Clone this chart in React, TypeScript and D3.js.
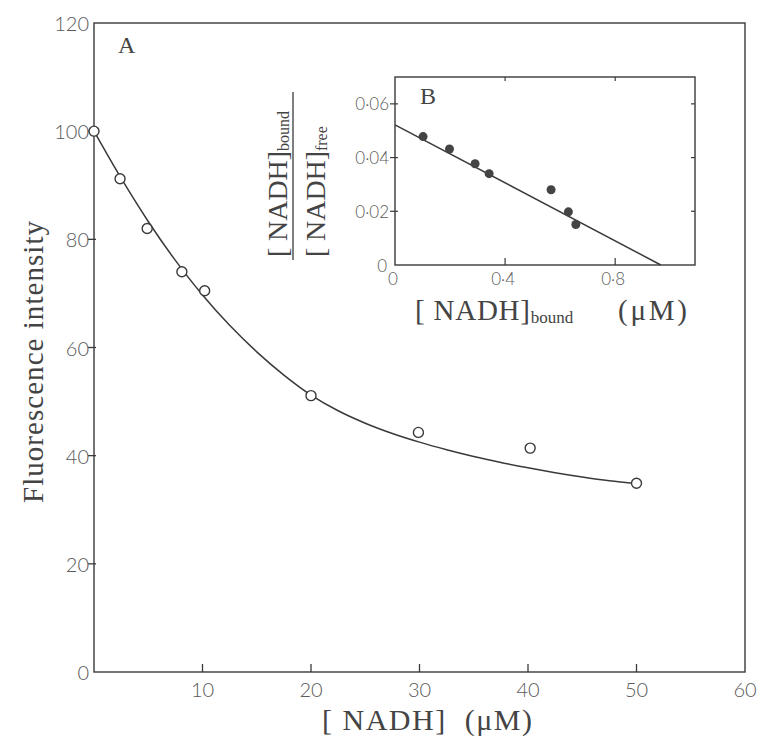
import React from "react";
import * as d3 from "d3";

// Panel A: fluorescence vs [NADH]
const mainX = [0, 2.4, 4.9, 8.1, 10.2, 20, 29.9, 40.2, 50];
const mainY = [100, 91.2, 82, 74, 70.5, 51.1, 44.3, 41.4, 34.9];
// fitted curve
const fitX = [0, 2.5, 5, 7.5, 10, 12.5, 15, 17.5, 20, 22.5, 25, 27.5, 30, 32.5, 35, 37.5, 40, 42.5, 45, 47.5, 50];
const fitY = [100, 91.3, 83.3, 76.1, 69.7, 64.1, 59.2, 54.9, 51.2, 48.3, 46.0, 44.1, 42.5, 41.1, 39.85, 38.75, 37.75, 36.85, 36.05, 35.35, 34.8];
const mainXTicks = [10, 20, 30, 40, 50, 60];
const mainYTicks = [0, 20, 40, 60, 80, 100, 120];

// Panel B: Scatchard plot
const insetX = [0.102, 0.198, 0.291, 0.342, 0.567, 0.63, 0.657];
const insetY = [0.0478, 0.0432, 0.0377, 0.034, 0.028, 0.0198, 0.0151];
const insetFitX = [0, 0.966];
const insetFitY = [0.0522, 0];
const insetXTicks = [0, 0.4, 0.8];
const insetYTicks = [0, 0.02, 0.04, 0.06];

const INK = "#3a3a3a";
const TXT = "#444";
const TICK = "#5a5a5a";
const SERIF = "'Liberation Serif', 'Times New Roman', serif";
const SANS = "Lato, 'DejaVu Sans', sans-serif";

const fmtDot = (v: number) => (v === 0 ? "0" : d3.format(".2~f")(v).replace(".", "·"));

export default function App() {
  const x = d3.scaleLinear().domain([0, 60]).range([94, 745]);
  const y = d3.scaleLinear().domain([0, 120]).range([672, 23]);

  const bx = d3.scaleLinear().domain([0, 1.09]).range([395, 695]);
  const by = d3.scaleLinear().domain([0, 0.07]).range([265, 77]);

  const fitLine = d3
    .line<number>()
    .x((d, i) => x(fitX[i]))
    .y((d, i) => y(fitY[i]))
    .curve(d3.curveCatmullRom.alpha(0.5))(fitX) as string;

  const insetLine = d3
    .line<number>()
    .x((d, i) => bx(insetFitX[i]))
    .y((d, i) => by(insetFitY[i]))(insetFitX) as string;

  const [x0, x1] = x.range();
  const [y0, y1] = y.range();
  const [bx0, bx1] = bx.range();
  const [by0, by1] = by.range();

  return (
    <svg
      width={760}
      height={743}
      style={{ position: "absolute", left: 0, top: 0, background: "#fff" }}
    >
      <rect x={0} y={0} width={760} height={743} fill="#fff" />
      {/* main frame */}
      <rect x={x0} y={y1} width={x1 - x0} height={y0 - y1} fill="none" stroke={INK} strokeWidth={1.4} />
      {/* y ticks */}
      {mainYTicks.map((t) => (
        <g key={"my" + t}>
          {t > 0 && t < 120 && (
            <line x1={x0 - 6} x2={x0 + 2} y1={y(t)} y2={y(t)} stroke={INK} strokeWidth={1.3} />
          )}
          <text
            x={x0 - 5}
            y={y(t)}
            textAnchor="end"
            dominantBaseline="central"
            fontFamily={SANS}
            fontWeight={300}
            fontSize={20}
            fill={TICK}
          >
            {t}
          </text>
        </g>
      ))}
      {/* x ticks */}
      {mainXTicks.map((t) => (
        <g key={"mx" + t}>
          {t < 60 && <line x1={x(t)} x2={x(t)} y1={y0} y2={y0 - 8} stroke={INK} strokeWidth={1.3} />}
          <text
            x={x(t)}
            y={689}
            textAnchor="middle"
            dominantBaseline="central"
            fontFamily={SANS}
            fontWeight={300}
            fontSize={20}
            fill={TICK}
          >
            {t}
          </text>
        </g>
      ))}
      {/* axis titles */}
      <text
        x={322}
        y={730}
        fontFamily={SERIF}
        fontSize={30}
        fill={TXT}
        textLength={210}
        lengthAdjust="spacing"
        xmlSpace="preserve"
      >
        {"[ NADH]  (μM)"}
      </text>
      <text
        transform="translate(43,503) rotate(-90)"
        x={0}
        y={0}
        fontFamily={SERIF}
        fontSize={29}
        fill={TXT}
        textLength={282}
        lengthAdjust="spacing"
      >
        Fluorescence intensity
      </text>
      <text x={118} y={53} fontFamily={SERIF} fontSize={24} fill={TXT}>
        A
      </text>

      {/* fitted curve */}
      <path d={fitLine} fill="none" stroke={INK} strokeWidth={1.5} />
      {mainX.map((v, i) => (
        <circle key={"p" + i} cx={x(v)} cy={y(mainY[i])} r={5} fill="#fff" stroke={INK} strokeWidth={1.4} />
      ))}

      {/* inset B */}
      <rect x={bx0} y={by1} width={bx1 - bx0} height={by0 - by1} fill="#fff" stroke={INK} strokeWidth={1.4} />
      {insetYTicks.map((t) => (
        <g key={"iy" + t}>
          {t > 0 && (
            <>
              <line x1={bx0 - 5} x2={bx0 + 3} y1={by(t)} y2={by(t)} stroke={INK} strokeWidth={1.2} />
              <line x1={bx1} x2={bx1 - 4} y1={by(t)} y2={by(t)} stroke={INK} strokeWidth={1.2} />
            </>
          )}
          <text
            x={t === 0 ? bx0 - 8 : bx0 - 6}
            y={by(t)}
            textAnchor="end"
            dominantBaseline="central"
            fontFamily={SANS}
            fontWeight={300}
            fontSize={17}
            fill={TICK}
          >
            {fmtDot(t)}
          </text>
        </g>
      ))}
      {insetXTicks.map((t) => (
        <g key={"ix" + t}>
          {t > 0 && (
            <>
              <line x1={bx(t)} x2={bx(t)} y1={by0} y2={by0 - 7} stroke={INK} strokeWidth={1.2} />
              <line x1={bx(t)} x2={bx(t)} y1={by1} y2={by1 + 4} stroke={INK} strokeWidth={1.2} />
            </>
          )}
          <text
            x={bx(t) - 2}
            y={278}
            textAnchor="middle"
            dominantBaseline="central"
            fontFamily={SANS}
            fontWeight={300}
            fontSize={17}
            fill={TICK}
          >
            {fmtDot(t)}
          </text>
        </g>
      ))}
      <path d={insetLine} fill="none" stroke={INK} strokeWidth={1.5} />
      {insetX.map((v, i) => (
        <circle key={"b" + i} cx={bx(v)} cy={by(insetY[i])} r={4.5} fill="#444" />
      ))}
      <text x={420} y={104} fontFamily={SERIF} fontSize={24} fill={TXT}>
        B
      </text>
      {/* inset x title */}
      <text x={415} y={320} fontFamily={SERIF} fontSize={29} fill={TXT} xmlSpace="preserve">
        <tspan textLength={115} lengthAdjust="spacing">{"[ NADH]"}</tspan>
        <tspan fontSize={17} dy={3}>bound</tspan>
        <tspan x={618} dy={-3} textLength={69} lengthAdjust="spacing">{"(μM)"}</tspan>
      </text>
      {/* inset y title (fraction) */}
      <g transform="translate(287,257) rotate(-90)">
        <text x={0} y={0} fontFamily={SERIF} fontSize={28} fill={TXT}>
          <tspan textLength={106} lengthAdjust="spacing">{"[ NADH]"}</tspan>
          <tspan fontSize={16} dy={2}>bound</tspan>
        </text>
      </g>
      <line x1={293} x2={293} y1={92} y2={260} stroke={INK} strokeWidth={1.3} />
      <g transform="translate(325,257) rotate(-90)">
        <text x={0} y={0} fontFamily={SERIF} fontSize={28} fill={TXT}>
          <tspan textLength={106} lengthAdjust="spacing">{"[ NADH]"}</tspan>
          <tspan fontSize={16} dy={2}>free</tspan>
        </text>
      </g>
    </svg>
  );
}
